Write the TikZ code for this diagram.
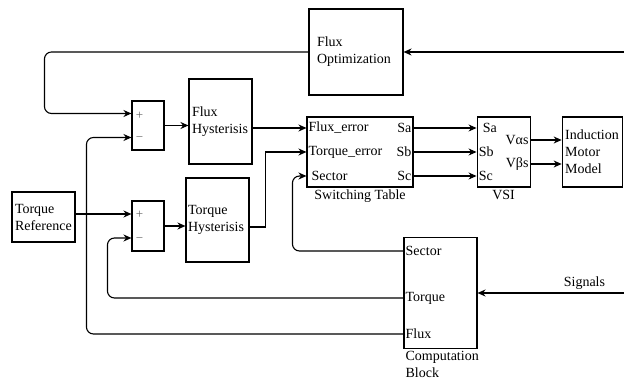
\documentclass[tikz,border=0pt]{standalone}
\usepackage{fontspec}
\setmainfont{Liberation Serif}
\usetikzlibrary{positioning, arrows.meta, calc}

\begin{document}
\begin{tikzpicture}[
                x=1pt, y=1pt,
                font=\fontsize{14pt}{17pt}\selectfont,
                block/.style={draw=black, line width=1.1pt, rectangle, align=left, inner xsep=3pt, inner ysep=0pt},
                sumblock/.style={draw=black, line width=1.1pt, rectangle, minimum width=32pt, minimum height=49pt},
                port/.style={inner sep=2pt},
                sign/.style={inner sep=0pt, text=black!60, font=\fontsize{13pt}{15pt}\selectfont},
                edge/.style={line width=1.1pt, -{Stealth[length=8pt, width=7pt]}},
                caption/.style={inner sep=2pt, align=left}
            ]

            \useasboundingbox (0,0) rectangle (624,380);

            % Bloecke
            \node[block, inner xsep=8pt, text width=78pt, minimum height=86pt] (fopt) at (356,328) {Flux\\Optimization};
            \node[sumblock] (sum1) at (148,254.5) {};
            \node[block, text width=57pt, minimum height=85pt] (fhyst) at (220.5,258.5) {Flux\\Hysterisis};
            \node[block, minimum width=106pt, minimum height=70pt] (swt) at (360,228) {};
            \node[block, minimum width=53pt, minimum height=70pt, right=63pt of swt] (vsi) {};
            \node[block, text width=54pt, minimum height=70pt, right=31pt of vsi] (imm) {Induction\\Motor\\Model};
            \node[block, text width=57pt, minimum height=50pt] (tref) at (43.5,163) {Torque\\Reference};
            \node[sumblock, minimum height=50pt] (sum2) at (148,154) {};
            \node[block, inner xsep=2pt, text width=59pt, minimum height=84pt] (thyst) at (217.5,160) {Torque\\Hysterisis};
            \node[block, minimum width=73pt, minimum height=111pt] (comp) at (440.5,87) {};

            % Anschluesse
            \coordinate (s1p) at ([yshift=12pt]sum1.west);
            \coordinate (s1m) at ([yshift=-12pt]sum1.west);
            \coordinate (s2p) at ([yshift=12pt]sum2.west);
            \coordinate (s2m) at ([yshift=-12pt]sum2.west);
            \coordinate (fe) at ([yshift=24pt]swt.west);
            \coordinate (te) at (swt.west);
            \coordinate (se) at ([yshift=-24pt]swt.west);
            \coordinate (va) at ([yshift=12pt]vsi.east);
            \coordinate (vb) at ([yshift=-12pt]vsi.east);
            \coordinate (csec) at ([yshift=42pt]comp.west);
            \coordinate (ctq) at ([yshift=-5pt]comp.west);
            \coordinate (cfl) at ([yshift=-41pt]comp.west);
            \coordinate (fosrc) at (624,328);
            \coordinate (sigsrc) at (624,87);

            % Beschriftungen
            \node[sign] (s1plus) at ([xshift=8pt, yshift=-2pt]s1p) {+};
            \node[sign] (s1minus) at ([xshift=8pt, yshift=-2pt]s1m) {−};
            \node[sign] (s2plus) at ([xshift=8pt, yshift=-1pt]s2p) {+};
            \node[sign] (s2minus) at ([xshift=8pt, yshift=-2pt]s2m) {−};
            \node[port, anchor=west] (lfe) at (fe) {Flux\_error};
            \node[port, anchor=west] (lte) at (te) {Torque\_error};
            \node[port, anchor=west, xshift=3pt] (lse) at (se) {Sector};
            \node[port, anchor=east] (lsa) at (swt.east |- fe) {Sa};
            \node[port, anchor=east] (lsb) at (swt.east |- te) {Sb};
            \node[port, anchor=east] (lsc) at (swt.east |- se) {Sc};
            \node[port, anchor=west, xshift=4pt] (lvsa) at (vsi.west |- fe) {Sa};
            \node[port, anchor=west] (lvsb) at (vsi.west |- te) {Sb};
            \node[port, anchor=west] (lvsc) at (vsi.west |- se) {Sc};
            \node[port, anchor=east] (lva) at (va) {Vαs};
            \node[port, anchor=east] (lvb) at (vb) {Vβs};
            \node[port, anchor=west] (lcsec) at (csec) {Sector};
            \node[port, anchor=west] (lctq) at (ctq) {Torque};
            \node[port, anchor=west] (lcfl) at (cfl) {Flux};
            \node[caption, below=0pt of swt] (swtlabel) {Switching Table};
            \node[caption, below=0pt of vsi] (vsilabel) {VSI};
            \node[caption, below right=0pt of comp.south west] (complabel) {Computation\\Block};

            % Verbindungen
            \draw[edge] (fosrc) -- (fopt.east);
            \draw[edge, rounded corners=7pt] (fopt.west) -| ([xshift=-87pt]s1p) -- (s1p);
            \draw[edge] (sum1.east) -- (sum1.east -| fhyst.west);
            \draw[edge] (fhyst.east |- fe) -- (fe);
            \draw[edge] (tref.east |- s2p) -- (s2p);
            \draw[edge] (sum2.east) -- (sum2.east -| thyst.west);
            \draw[edge] ([yshift=-7pt]thyst.east) -| ([xshift=-41pt]te) -- (te);
            \draw[edge, rounded corners=7pt] (csec) -| ([xshift=-14pt]se) -- (se);
            \draw[edge, rounded corners=7pt] (ctq) -| ([xshift=-24pt]s2m) -- (s2m);
            \draw[edge, rounded corners=7pt] (cfl) -| ([xshift=-45pt]s1m) -- (s1m);
            \draw[edge] (swt.east |- fe) -- (vsi.west |- fe);
            \draw[edge] (swt.east |- te) -- (vsi.west |- te);
            \draw[edge] (swt.east |- se) -- (vsi.west |- se);
            \draw[edge] (va) -- (va -| imm.west);
            \draw[edge] (vb) -- (vb -| imm.west);
            \draw[edge] (sigsrc) -- (comp.east) node[pos=0.27, above] (siglabel) {Signals};

        \end{tikzpicture}
\end{document}
